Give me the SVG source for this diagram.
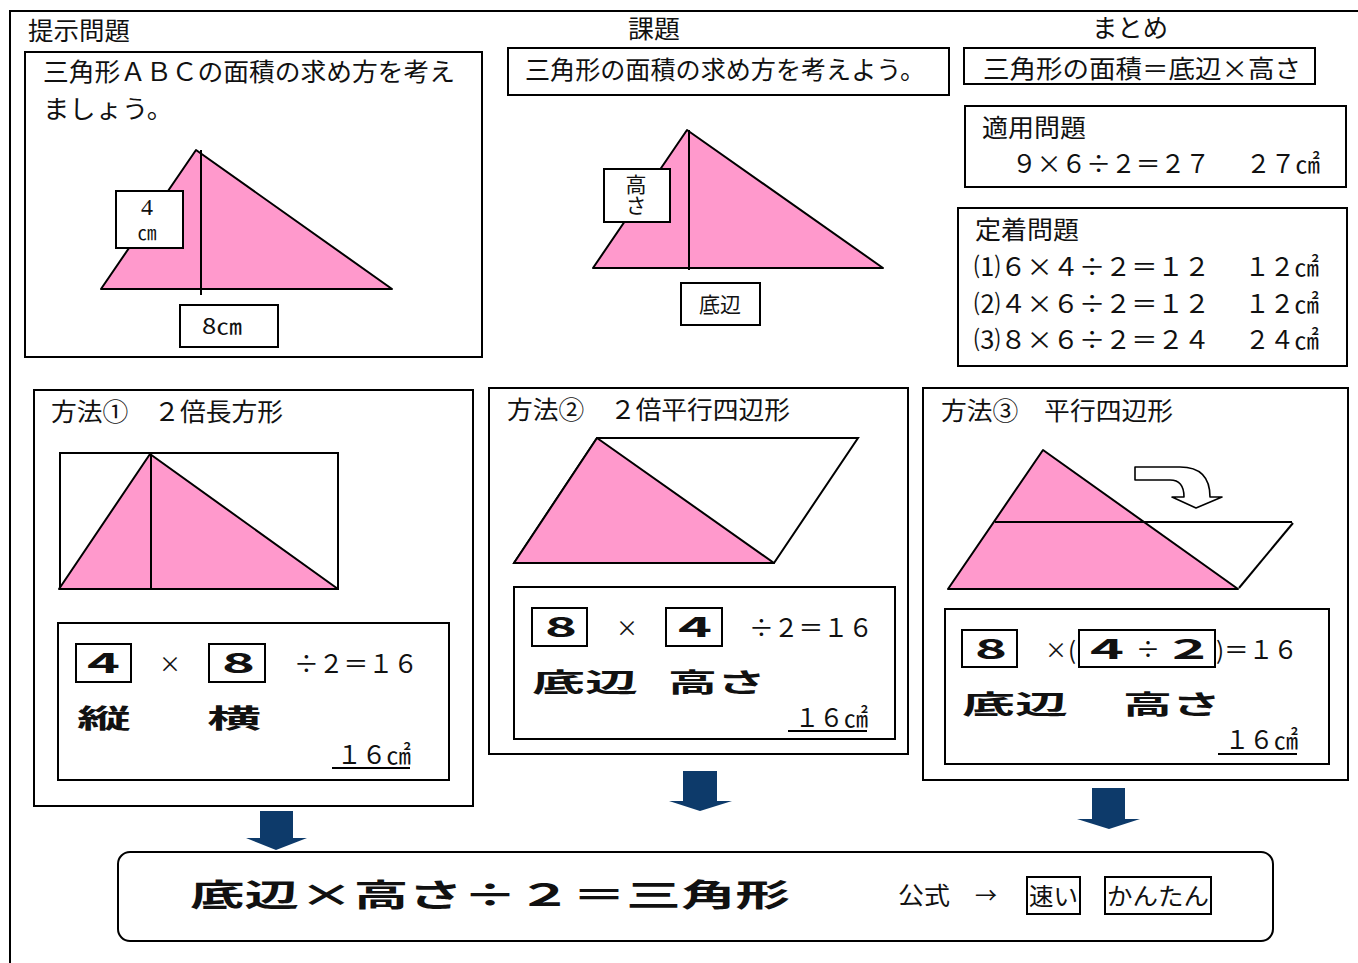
<svg xmlns="http://www.w3.org/2000/svg" width="1358" height="963" viewBox="0 0 1358 963">
<style>
.t{font-family:"Noto Sans CJK JP","Liberation Sans",sans-serif;fill:#111}
.f25{font-size:25px}
.f22{font-size:21px}
.b{font-weight:bold}
.box{fill:#fff;stroke:#000;stroke-width:2}
.pink{fill:#FF99CC;stroke:#000;stroke-width:2;stroke-linejoin:round}
.ln{stroke:#000;stroke-width:2;fill:none}
.ul{stroke:#000;stroke-width:2}
.arr{fill:#0D3A6A}
</style>
<rect width="1358" height="963" fill="#fff"/>
<path d="M10,963 L10,11 L1358,11" class="ln"/>

<g id="teiji">
<text class="t f25" x="28" y="40" textLength="102" lengthAdjust="spacingAndGlyphs">提示問題</text>
<rect class="box" x="25" y="52" width="457" height="305"/>
<text class="t f25" x="43" y="81" textLength="412" lengthAdjust="spacingAndGlyphs">三角形ＡＢＣの面積の求め方を考え</text>
<text class="t f25" x="43" y="118" textLength="130" lengthAdjust="spacingAndGlyphs">ましょう。</text>
<polygon class="pink" points="196,150 101,289 392,289"/>
<line class="ln" x1="201" y1="150" x2="201" y2="295"/>
<rect class="box" x="116" y="191" width="67" height="57"/>
<text x="147" y="215" font-family="'Liberation Serif',serif" font-size="24" fill="#111" text-anchor="middle">4</text>
<text class="t" x="147" y="240" font-size="19" text-anchor="middle">㎝</text>
<rect class="box" x="180" y="305" width="98" height="42"/>
<text class="t" x="202" y="334" font-size="21" textLength="40" lengthAdjust="spacingAndGlyphs">8㎝</text>
</g>

<g id="kadai">
<text class="t f25" x="628" y="38" textLength="52" lengthAdjust="spacingAndGlyphs">課題</text>
<rect class="box" x="508" y="48" width="441" height="47"/>
<text class="t f25" x="525" y="79" textLength="400" lengthAdjust="spacingAndGlyphs">三角形の面積の求め方を考えよう。</text>
<polygon class="pink" points="687,130 593,268 883,268"/>
<line class="ln" x1="689" y1="130" x2="689" y2="270"/>
<rect class="box" x="604" y="169" width="66" height="53"/>
<text class="t" x="636" y="174" font-size="21" writing-mode="vertical-rl">高さ</text>
<rect class="box" x="681" y="283" width="79" height="42"/>
<text class="t f22" x="720" y="312" text-anchor="middle">底辺</text>
</g>

<g id="matome">
<text class="t f25" x="1092" y="37" textLength="76" lengthAdjust="spacingAndGlyphs">まとめ</text>
<rect class="box" x="964" y="48" width="351" height="36"/>
<text class="t f25" x="983" y="78" textLength="318" lengthAdjust="spacingAndGlyphs">三角形の面積＝底辺×高さ</text>
</g>

<g id="tekiyou">
<rect class="box" x="965" y="106" width="381" height="81"/>
<text class="t f25" x="982" y="137" textLength="104" lengthAdjust="spacingAndGlyphs">適用問題</text>
<text class="t f25" x="1012" y="173" textLength="198" lengthAdjust="spacingAndGlyphs">９×６÷２＝２７</text>
<text class="t f25" x="1246" y="173" textLength="74" lengthAdjust="spacingAndGlyphs">２７㎠</text>
</g>

<g id="teichaku">
<rect class="box" x="958" y="208" width="389" height="158"/>
<text class="t f25" x="975" y="239" textLength="104" lengthAdjust="spacingAndGlyphs">定着問題</text>
<text class="t f25" x="974" y="276" textLength="236" lengthAdjust="spacingAndGlyphs">⑴６×４÷２＝１２</text>
<text class="t f25" x="1245" y="276" textLength="74" lengthAdjust="spacingAndGlyphs">１２㎠</text>
<text class="t f25" x="974" y="313" textLength="236" lengthAdjust="spacingAndGlyphs">⑵４×６÷２＝１２</text>
<text class="t f25" x="1245" y="313" textLength="74" lengthAdjust="spacingAndGlyphs">１２㎠</text>
<text class="t f25" x="974" y="349" textLength="236" lengthAdjust="spacingAndGlyphs">⑶８×６÷２＝２４</text>
<text class="t f25" x="1245" y="349" textLength="74" lengthAdjust="spacingAndGlyphs">２４㎠</text>
</g>

<g id="houhou1">
<rect class="box" x="34" y="390" width="439" height="416"/>
<text class="t f25" x="51" y="421" textLength="232" lengthAdjust="spacingAndGlyphs">方法①　２倍長方形</text>
<rect class="box" x="60" y="453" width="278" height="136"/>
<polygon class="pink" points="59,589 150,454 338,589"/>
<line class="ln" x1="151" y1="454" x2="151" y2="590"/>
<rect class="box" x="58" y="623" width="391" height="157"/>
<rect class="box" x="76" y="644" width="55" height="38"/>
<text class="t b" x="87" y="673" font-size="28" textLength="33" lengthAdjust="spacingAndGlyphs">4</text>
<text class="t" x="170" y="672" font-size="22" text-anchor="middle">×</text>
<rect class="box" x="209" y="644" width="56" height="38"/>
<text class="t b" x="222" y="673" font-size="28" textLength="33" lengthAdjust="spacingAndGlyphs">8</text>
<text class="t f25" x="294" y="673" textLength="124" lengthAdjust="spacingAndGlyphs">÷２＝１６</text>
<text class="t b" x="77" y="728" font-size="26" textLength="54" lengthAdjust="spacingAndGlyphs">縦</text>
<text class="t b" x="207" y="728" font-size="26" textLength="54" lengthAdjust="spacingAndGlyphs">横</text>
<text class="t f25" x="337" y="764" textLength="74" lengthAdjust="spacingAndGlyphs">１６㎠</text>
<line class="ul" x1="332" y1="768" x2="410" y2="768"/>
</g>

<g id="houhou2">
<rect class="box" x="489" y="388" width="419" height="366"/>
<text class="t f25" x="507" y="419" textLength="283" lengthAdjust="spacingAndGlyphs">方法②　２倍平行四辺形</text>
<polygon class="box" points="514,563 597,438 858,438 774,563"/>
<polygon class="pink" points="514,563 597,438 774,563"/>
<rect class="box" x="514" y="587" width="381" height="152"/>
<rect class="box" x="532" y="608" width="55" height="38"/>
<text class="t b" x="545" y="637" font-size="28" textLength="32" lengthAdjust="spacingAndGlyphs">8</text>
<text class="t" x="627" y="636" font-size="22" text-anchor="middle">×</text>
<rect class="box" x="666" y="608" width="56" height="38"/>
<text class="t b" x="678" y="637" font-size="28" textLength="34" lengthAdjust="spacingAndGlyphs">4</text>
<text class="t f25" x="749" y="637" textLength="124" lengthAdjust="spacingAndGlyphs">÷２＝１６</text>
<text class="t b" x="532" y="692" font-size="26" textLength="106" lengthAdjust="spacingAndGlyphs">底辺</text>
<text class="t b" x="668" y="692" font-size="26" textLength="98" lengthAdjust="spacingAndGlyphs">高さ</text>
<text class="t f25" x="795" y="727" textLength="73" lengthAdjust="spacingAndGlyphs">１６㎠</text>
<line class="ul" x1="788" y1="731" x2="867" y2="731"/>
</g>

<g id="houhou3">
<rect class="box" x="923" y="388" width="425" height="392"/>
<text class="t f25" x="941" y="420" textLength="232" lengthAdjust="spacingAndGlyphs">方法③　平行四辺形</text>
<polygon class="pink" points="1043,450 948,589 1238,589"/>
<line class="ln" x1="995" y1="522" x2="1292" y2="522"/>
<polyline class="ln" points="1293,523 1239,588"/>
<path d="M1135,467 L1180,467 Q1210,467 1210,497 L1222,497 L1196,508 L1172,497 L1184,497 Q1184,480 1170,480 L1135,480 Z" fill="#fff" stroke="#000" stroke-width="1.6" stroke-linejoin="round"/>
<rect class="box" x="962" y="630" width="55" height="37"/>
<text class="t b" x="975" y="659" font-size="28" textLength="32" lengthAdjust="spacingAndGlyphs">8</text>
<text class="t" x="1056" y="658" font-size="22" text-anchor="middle">×</text>
<text class="t" x="1068" y="659" font-size="24">(</text>
<rect class="box" x="1079" y="630" width="136" height="37"/>
<text class="t b" x="1090" y="659" font-size="28" textLength="34" lengthAdjust="spacingAndGlyphs">4</text>
<text class="t" x="1148" y="658" font-size="24" text-anchor="middle">÷</text>
<text class="t b" x="1172" y="659" font-size="28" textLength="34" lengthAdjust="spacingAndGlyphs">2</text>
<text class="t" x="1216" y="659" font-size="24">)</text>
<text class="t f25" x="1224" y="659" textLength="74" lengthAdjust="spacingAndGlyphs">＝１６</text>
<text class="t b" x="962" y="714" font-size="26" textLength="106" lengthAdjust="spacingAndGlyphs">底辺</text>
<text class="t b" x="1123" y="714" font-size="26" textLength="98" lengthAdjust="spacingAndGlyphs">高さ</text>
<text class="t f25" x="1225" y="749" textLength="73" lengthAdjust="spacingAndGlyphs">１６㎠</text>
<line class="ul" x1="1218" y1="754" x2="1297" y2="754"/>
<rect x="945" y="609" width="384" height="155" fill="none" stroke="#000" stroke-width="2"/>
</g>

<g id="connectors">
<polygon class="arr" points="260,811 293,811 293,838 307,838 276,850 246,838 260,838"/>
<polygon class="arr" points="683,771 717,771 717,801 732,801 700,811 669,801 683,801"/>
<polygon class="arr" points="1092,788 1125,788 1125,819 1140,819 1109,829 1077,819 1092,819"/>
</g>

<g id="koushiki">
<rect x="118" y="852" width="1155" height="89" rx="12" ry="12" fill="#fff" stroke="#000" stroke-width="2"/>
<text class="t b" x="190" y="906" font-size="31" textLength="600" lengthAdjust="spacingAndGlyphs">底辺×高さ÷２＝三角形</text>
<text class="t" x="898" y="904" font-size="24" textLength="52" lengthAdjust="spacingAndGlyphs">公式</text>
<text class="t" x="986" y="903" font-size="22" text-anchor="middle">→</text>
<rect class="box" x="1027" y="877" width="53" height="37"/>
<text class="t" x="1029" y="905" font-size="24" textLength="49" lengthAdjust="spacingAndGlyphs">速い</text>
<rect class="box" x="1105" y="877" width="106" height="37"/>
<text class="t" x="1107" y="905" font-size="24" textLength="102" lengthAdjust="spacingAndGlyphs">かんたん</text>
</g>
</svg>
